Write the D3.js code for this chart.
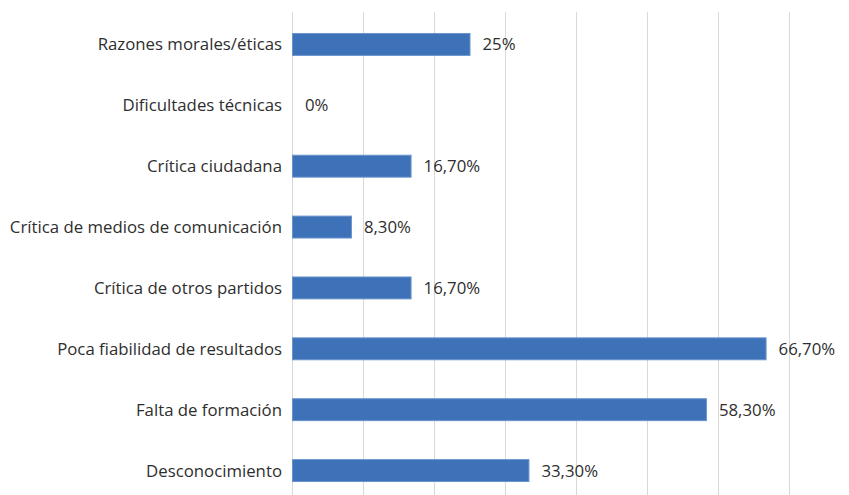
<!DOCTYPE html>
<html><head><meta charset="utf-8">
<script src="https://cdn.jsdelivr.net/npm/d3@7"></script>
<style>body{margin:0;background:#fff}svg{display:block}</style>
</head><body><svg id="c" width="849" height="495"></svg>
<script>
const categories = ["Razones morales/éticas","Dificultades técnicas","Crítica ciudadana","Crítica de medios de comunicación","Crítica de otros partidos","Poca fiabilidad de resultados","Falta de formación","Desconocimiento"];
const values = [25, 0, 16.7, 8.3, 16.7, 66.7, 58.3, 33.3];
const valueLabels = ["25%","0%","16,70%","8,30%","16,70%","66,70%","58,30%","33,30%"];
const gridTicks = [0,10,20,30,40,50,60,70];

const svg = d3.select("#c");
const font = "'Open Sans', sans-serif";
const x = d3.scaleLinear().domain([0,70]).range([292,789]);
const y = d3.scaleBand().domain(categories).range([14,501]).paddingInner(0.64).paddingOuter(0.32);

svg.append("g").selectAll("line").data(gridTicks).join("line")
  .attr("x1", d=>x(d)+0.5).attr("x2", d=>x(d)+0.5)
  .attr("y1", 12).attr("y2", 495)
  .attr("stroke", "#d9d9d9").attr("stroke-width", 1);

svg.append("g").selectAll("rect").data(values).join("rect")
  .attr("x", x(0)+0.5).attr("y", (d,i)=>y(categories[i]))
  .attr("width", d=>Math.max(0, x(d)-x(0)))
  .attr("height", y.bandwidth())
  .attr("fill", "#3d72b9").attr("stroke", d=>d>0?"#6a93cc":"none").attr("stroke-width",1);

svg.append("g").selectAll("text").data(categories).join("text")
  .attr("x", 282).attr("y", d=>y(d)+y.bandwidth()/2)
  .attr("text-anchor","end").attr("dy","0.36em")
  .attr("font-family", font).attr("font-size", 16.8).attr("fill","#2e2e2e")
  .text(d=>d);

svg.append("g").selectAll("text").data(values).join("text")
  .attr("x", d=>x(d)+13).attr("y", (d,i)=>y(categories[i])+y.bandwidth()/2)
  .attr("dy","0.36em")
  .attr("font-family", font).attr("font-size", 16.8).attr("fill","#2e2e2e")
  .text((d,i)=>valueLabels[i]);
</script></body></html>
